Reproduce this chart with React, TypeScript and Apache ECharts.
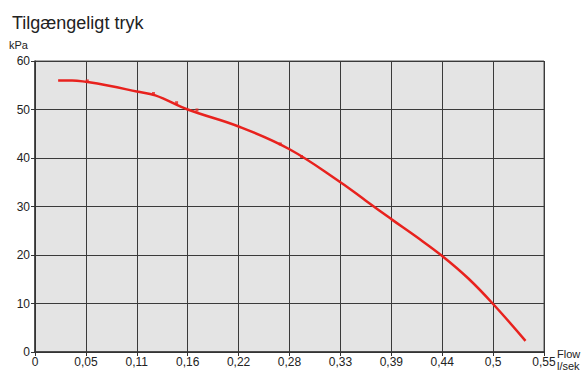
import React, { useEffect, useRef } from "react";
import * as echarts from "echarts";

const xTickLabels = ["0", "0,05", "0,11", "0,16", "0,22", "0,28", "0,33", "0,39", "0,44", "0,5", "0,55"];
const yTickLabels = ["0", "10", "20", "30", "40", "50", "60"];

// curve: flow (l/sek), pressure (kPa)
const flowValues = [0.025, 0.04, 0.055, 0.08, 0.11, 0.13, 0.165, 0.22, 0.275, 0.33, 0.3575, 0.385, 0.4125, 0.44, 0.468, 0.495, 0.53];
const pressureValues = [56.0, 56.0, 55.7, 54.9, 53.7, 52.9, 50.0, 46.5, 41.8, 35.0, 31.2, 27.4, 23.7, 19.8, 15.2, 9.9, 2.3];

// small markers on the curve
const markerFlow = [0.0565, 0.128, 0.153, 0.175, 0.265, 0.288];
const markerPressure = [55.9, 53.3, 51.4, 49.9, 42.9, 40.3];

const FONT = "Liberation Sans, Arial, sans-serif";

export default function App() {
  const ref = useRef<HTMLDivElement>(null);
  useEffect(() => {
    if (!ref.current) return;
    const chart = echarts.init(ref.current, undefined, { renderer: "svg" });
    const step = 0.055;
    chart.setOption({
      animation: false,
      textStyle: { fontFamily: FONT },
      graphic: [
        { type: "text", left: 12, top: 14, style: { text: "Tilgængeligt tryk", font: `18px ${FONT}`, fill: "#222" } },
        { type: "text", left: 9, top: 39, style: { text: "kPa", font: `11px ${FONT}`, fill: "#222" } },
        { type: "text", left: 557, top: 348, style: { text: "Flow", font: `11px ${FONT}`, fill: "#222" } },
        { type: "text", left: 557, top: 360, style: { text: "l/sek", font: `11px ${FONT}`, fill: "#222" } },
      ],
      grid: {
        left: 35,
        right: 42,
        top: 61,
        bottom: 21,
        show: true,
        backgroundColor: "#e4e4e4",
        borderColor: "#555",
        borderWidth: 1,
      },
      xAxis: {
        type: "value",
        min: 0,
        max: 0.55,
        interval: step,
        axisLine: { show: true, lineStyle: { color: "#333", width: 1.5 } },
        axisTick: { show: true, length: 4, lineStyle: { color: "#333" } },
        splitLine: { show: true, lineStyle: { color: "#3a3a3a", width: 1 } },
        axisLabel: {
          color: "#222",
          fontSize: 12,
          fontFamily: FONT,
          margin: 4,
          showMinLabel: true,
          showMaxLabel: true,
          formatter: (v: number) => xTickLabels[Math.round(v / step)] ?? "",
        },
      },
      yAxis: {
        type: "value",
        min: 0,
        max: 60,
        interval: 10,
        axisLine: { show: true, lineStyle: { color: "#333", width: 1.5 } },
        axisTick: { show: true, length: 4, lineStyle: { color: "#333" } },
        splitLine: { show: true, lineStyle: { color: "#3a3a3a", width: 1 } },
        axisLabel: {
          color: "#222",
          fontSize: 12,
          fontFamily: FONT,
          margin: 5,
          formatter: (v: number) => yTickLabels[Math.round(v / 10)] ?? "",
        },
      },
      series: [
        {
          type: "line",
          data: flowValues.map((f, i) => [f, pressureValues[i]]),
          smooth: 0.4,
          showSymbol: false,
          lineStyle: { color: "#e8221e", width: 2.5 },
          z: 3,
        },
        {
          type: "scatter",
          data: markerFlow.map((f, i) => [f, markerPressure[i]]),
          symbol: "rect",
          symbolSize: [3, 3],
          itemStyle: { color: "#e8221e" },
          z: 4,
        },
      ],
    });
    return () => chart.dispose();
  }, []);
  return <div ref={ref} style={{ width: 586, height: 373, position: "absolute", left: 0, top: 0 }} />;
}
